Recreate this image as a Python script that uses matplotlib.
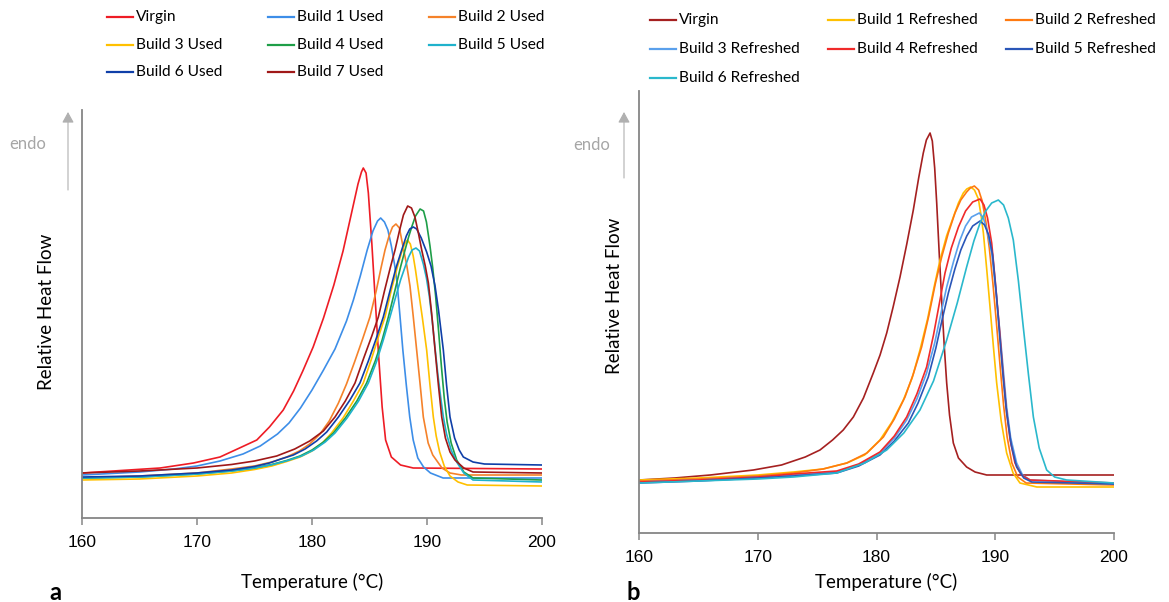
import matplotlib
matplotlib.use("Agg")
import matplotlib.pyplot as plt
from matplotlib.lines import Line2D
from matplotlib.patches import FancyArrowPatch

# ---------------- panel a : used powder ----------------
names_a = ["Virgin", "Build 1 Used", "Build 2 Used", "Build 3 Used",
           "Build 4 Used", "Build 5 Used", "Build 6 Used", "Build 7 Used"]
colors_a = ["#ee1c25", "#3d8ee8", "#f5822a", "#ffc000",
            "#1e9e48", "#1fb2cc", "#0f3fa8", "#a01818"]

# temperature (C) / relative heat flow (arbitrary units)
virgin_a_t = [160, 166.8, 169.7, 172.0, 173.7, 175.2, 176.3, 177.5, 178.4, 179.2, 180.1, 181.0, 181.9, 182.7, 183.4, 184.0, 184.3, 184.46, 184.7, 184.9, 185.2, 185.5, 185.8, 186.1, 186.4, 186.9, 187.7, 188.8, 200]
virgin_a_h = [45, 50, 55, 61, 70, 78, 91, 108, 127, 147, 171, 200, 233, 267, 303, 334, 346, 350, 345, 325, 275, 218, 161, 111, 78, 61, 53, 50, 49]

b1_a_t = [160, 165, 168, 170, 172, 174, 175.5, 177, 178, 179, 180, 181, 182, 183, 183.6, 184.2, 184.8, 185.3, 185.7, 185.97, 186.3, 186.6, 186.9, 187.2, 187.4, 187.65, 187.9, 188.2, 188.5, 188.8, 189.2, 189.7, 190.3, 191.4, 200]
b1_a_h = [43, 46, 49, 52, 57, 64, 72, 84, 95, 110, 128, 148, 169, 197, 218, 242, 268, 287, 297, 300, 296, 288, 272, 252, 235, 202, 168, 133, 101, 78, 60, 51, 45, 40, 40]

b2_a_t = [160, 165, 170, 173, 175, 176.5, 177.8, 178.9, 179.8, 180.7, 181.5, 182.3, 183.0, 183.7, 184.4, 185.04, 185.6, 186.0, 186.35, 186.7, 187.0, 187.3, 187.6, 187.94, 188.25, 188.52, 188.8, 189.1, 189.4, 189.68, 190.1, 190.5, 191.3, 192, 193, 200]
b2_a_h = [40, 42, 45, 49, 52, 56, 61, 67, 74, 84, 97, 115, 134, 156, 179, 201, 228, 250, 268, 282, 291, 294, 290, 270, 252, 232, 202, 168, 134, 101, 75, 63, 50, 45, 43, 43]

b3_a_t = [160, 165, 170, 173, 175, 176.5, 177.8, 178.96, 180.0, 180.9, 181.7, 182.7, 183.6, 184.46, 185.2, 185.8, 186.35, 186.9, 187.4, 187.8, 188.1, 188.3, 188.55, 188.8, 189.0, 189.2, 189.6, 189.97, 190.25, 190.55, 190.8, 191.1, 191.5, 192, 192.7, 193.5, 200]
b3_a_h = [38, 39, 42, 45, 48.5, 52, 56.5, 61, 67, 75, 85, 100, 117, 135, 160, 182, 201, 228, 250, 266, 275, 278, 274, 262, 248, 232, 200, 168, 134, 101, 82, 66, 52, 42, 36, 33, 32]

b4_a_t = [160, 165, 170, 173, 175, 176.5, 177.8, 178.96, 180.0, 181.0, 181.86, 182.9, 183.9, 184.75, 185.5, 186.1, 186.64, 187.2, 187.7, 188.09, 188.4, 188.67, 189.0, 189.4, 189.7, 189.95, 190.26, 190.5, 190.75, 191.0, 191.25, 191.5, 191.75, 192.1, 192.58, 193.2, 194, 200]
b4_a_h = [40, 41, 44, 47, 50, 53.5, 57.5, 62, 68, 76, 85, 100, 117, 135, 157, 178, 201, 227, 251, 268, 281, 291, 302, 309, 307, 296, 272, 250, 222, 188, 152, 120, 96, 75, 58, 46, 40, 38]

b5_a_t = [160, 165, 170, 173, 175, 176.6, 177.9, 179.1, 180.15, 181.15, 182.0, 183.05, 184.05, 184.9, 185.6, 186.2, 186.78, 187.3, 187.7, 188.09, 188.4, 188.7, 189.04, 189.35, 189.68, 189.95, 190.2, 190.45, 190.7, 190.95, 191.2, 191.42, 191.7, 192.1, 192.58, 193.2, 194, 200]
b5_a_h = [40, 41, 44, 47, 50, 53.5, 57.5, 62, 68, 76, 85, 100, 117, 135, 156, 178, 201, 222, 238, 251, 261, 268, 270, 267, 254, 240, 222, 198, 170, 143, 120, 101, 84, 68, 56, 45, 38, 36]

b6_a_t = [160, 165, 170, 173, 175, 176.3, 177.3, 178.38, 179.4, 180.4, 181.28, 182.3, 183.3, 184.17, 184.9, 185.6, 186.2, 186.8, 187.3, 187.8, 188.2, 188.5, 188.81, 189.1, 189.5, 189.97, 190.35, 190.7, 191.0, 191.42, 191.7, 192.0, 192.4, 192.8, 193.16, 194, 195, 200]
b6_a_h = [41, 42, 45, 48, 51.5, 55, 59, 63, 69, 77, 86, 101, 118, 135, 157, 180, 201, 228, 250, 268, 282, 289, 291, 289, 280, 266, 252, 232, 208, 168, 133, 101, 80, 68, 61, 56, 54, 53]

b7_a_t = [160, 165, 170, 173, 175, 176.93, 178.5, 179.8, 180.99, 182.0, 182.9, 183.74, 184.5, 185.2, 185.77, 186.3, 186.8, 187.22, 187.6, 187.95, 188.32, 188.65, 188.95, 189.25, 189.54, 189.85, 190.12, 190.4, 190.7, 191.0, 191.28, 191.6, 192.0, 192.43, 193.2, 194, 200]
b7_a_h = [45, 47, 50, 53.5, 57, 62, 69, 77, 87, 101, 117, 135, 160, 182, 201, 227, 250, 268, 287, 303, 312, 310, 301, 285, 268, 252, 235, 205, 168, 132, 101, 80, 66, 58, 50, 46, 45]

temps_a = [virgin_a_t, b1_a_t, b2_a_t, b3_a_t, b4_a_t, b5_a_t, b6_a_t, b7_a_t]
flows_a = [virgin_a_h, b1_a_h, b2_a_h, b3_a_h, b4_a_h, b5_a_h, b6_a_h, b7_a_h]

# ---------------- panel b : refreshed powder ----------------
names_b = ["Virgin", "Build 1 Refreshed", "Build 2 Refreshed", "Build 3 Refreshed",
           "Build 4 Refreshed", "Build 5 Refreshed", "Build 6 Refreshed"]
colors_b = ["#a52020", "#ffc000", "#ff7a10", "#5aa0ec",
            "#f02a2a", "#2a56b8", "#2ab8cc"]

virgin_b_t = [160, 163, 166, 169.63, 172, 174, 175.24, 176.3, 177.2, 178.05, 178.9, 179.73, 180.3, 180.86, 181.4, 181.98, 182.55, 183.1, 183.55, 183.94, 184.2, 184.51, 184.7, 184.9, 185.07, 185.28, 185.49, 185.7, 185.91, 186.15, 186.47, 186.9, 187.59, 188.3, 189.28, 200]
virgin_b_h = [53, 55, 58, 63, 68, 76, 83, 93, 103, 116, 135, 160, 178, 200, 226, 256, 289, 323, 355, 380, 393, 400, 392, 365, 330, 280, 233, 188, 150, 118, 90, 75, 66, 61, 58, 58]

b1_b_t = [160, 165, 170, 173, 175.5, 177.5, 179, 180.29, 181.3, 182.26, 183.0, 183.66, 184.3, 184.85, 185.35, 185.9, 186.47, 186.9, 187.31, 187.6, 187.93, 188.25, 188.58, 188.8, 189.0, 189.28, 189.56, 189.84, 190.12, 190.5, 190.96, 191.5, 192.08, 193.5, 200]
b1_b_h = [53, 55, 58, 61, 64, 70, 78, 93, 111, 133, 155, 183, 214, 246, 273, 297, 316, 330, 340, 344, 346, 343, 334, 318, 300, 264, 226, 187, 150, 112, 80, 60, 50, 46, 46]

b2_b_t = [160, 165, 170, 173, 175.5, 177.5, 179.2, 180.58, 181.5, 182.4, 183.1, 183.8, 184.4, 184.95, 185.49, 186.05, 186.61, 187.1, 187.59, 187.9, 188.24, 188.6, 188.9, 189.2, 189.5, 189.8, 190.1, 190.4, 190.7, 191.0, 191.4, 191.9, 192.6, 200]
b2_b_h = [52, 54, 57, 60, 64, 70, 80, 96, 114, 136, 159, 186, 217, 249, 276, 300, 320, 333, 341, 345, 347, 343, 332, 312, 285, 250, 210, 168, 128, 96, 70, 56, 50, 48]

b3_b_t = [160, 165, 170, 173, 176.65, 178.5, 180.29, 181.5, 182.54, 183.4, 184.22, 184.9, 185.4, 185.91, 186.5, 187.0, 187.5, 188.0, 188.66, 189.0, 189.3, 189.7, 190.05, 190.4, 190.7, 190.96, 191.3, 191.8, 192.3, 192.93, 200]
b3_b_h = [51, 53, 56, 58, 61, 68, 80, 95, 113, 134, 160, 190, 218, 246, 272, 292, 307, 316, 320, 315, 303, 280, 242, 200, 160, 126, 95, 70, 58, 53, 49]

b4_b_t = [160, 165, 170, 173, 176.65, 178.5, 180.29, 181.5, 182.54, 183.4, 184.22, 184.8, 185.3, 185.77, 186.3, 186.9, 187.5, 188.1, 188.72, 189.05, 189.35, 189.7, 190.0, 190.34, 190.62, 190.91, 191.25, 191.66, 192.2, 192.93, 200]
b4_b_h = [51, 53, 56, 59, 62, 69, 81, 97, 116, 139, 166, 198, 230, 260, 285, 306, 322, 331, 334, 328, 315, 290, 252, 206, 165, 126, 93, 70, 58, 53, 50]

b5_b_t = [160, 165, 170, 173, 176.65, 178.5, 180.29, 181.5, 182.68, 183.5, 184.36, 185.0, 185.5, 186.05, 186.6, 187.1, 187.6, 188.1, 188.72, 189.1, 189.45, 189.78, 190.1, 190.4, 190.68, 190.96, 191.35, 191.8, 192.4, 193.07, 200]
b5_b_h = [50, 52, 55, 57, 60, 67, 78, 92, 110, 130, 156, 185, 212, 240, 264, 283, 297, 307, 312, 308, 298, 278, 238, 193, 154, 120, 88, 66, 55, 51, 49]

b6_b_t = [160, 165, 170, 173, 176.65, 179, 180.86, 182.3, 183.66, 184.8, 185.91, 186.8, 187.59, 188.2, 188.72, 189.2, 189.7, 190.26, 190.7, 191.1, 191.52, 191.95, 192.36, 192.8, 193.21, 193.7, 194.33, 195.0, 196.01, 200]
b6_b_h = [50, 52, 54, 56, 60, 70, 83, 100, 123, 152, 193, 230, 266, 292, 310, 322, 330, 333, 328, 315, 293, 252, 206, 158, 116, 85, 63, 56, 53, 50]

temps_b = [virgin_b_t, b1_b_t, b2_b_t, b3_b_t, b4_b_t, b5_b_t, b6_b_t]
flows_b = [virgin_b_h, b1_b_h, b2_b_h, b3_b_h, b4_b_h, b5_b_h, b6_b_h]

xticks = [160, 170, 180, 190, 200]

TEXT_FONT = ["Lato", "DejaVu Sans"]
TICK_FONT = ["Liberation Sans", "DejaVu Sans"]
AXIS_GREY = "#868686"

W, H = 1169, 602
fig = plt.figure(figsize=(W / 100, H / 100), dpi=100)


def px_box(left, top, right, bottom):
    return [left / W, 1 - bottom / H, (right - left) / W, (bottom - top) / H]


def style_axis(ax, ytop):
    ax.set_xlim(160, 200)
    ax.set_ylim(0, ytop)
    for s in ["top", "right"]:
        ax.spines[s].set_visible(False)
    for s in ["left", "bottom"]:
        ax.spines[s].set_color(AXIS_GREY)
        ax.spines[s].set_linewidth(1.3)
    ax.set_yticks([])
    ax.set_xticks(xticks)
    ax.tick_params(axis="x", direction="out", length=5, width=1.1, color=AXIS_GREY,
                   labelsize=12.5, pad=7)
    for lab in ax.get_xticklabels():
        lab.set_family(TICK_FONT)


def add_legend(labels, colors, col_x, row_y):
    # row-wise, three entries per row, fixed column positions (px)
    for i, (lab, c) in enumerate(zip(labels, colors)):
        x0 = col_x[i % 3]
        y = 1 - row_y[i // 3] / H
        fig.add_artist(Line2D([x0 / W, (x0 + 26) / W], [y, y], color=c, lw=1.6,
                              transform=fig.transFigure))
        fig.text((x0 + 29) / W, y, lab, ha="left", va="center",
                 family=TEXT_FONT, fontsize=11.2)


# panel a
ax_a = fig.add_axes(px_box(82, 110, 542, 518))
for t, h, c in zip(temps_a, flows_a, colors_a):
    ax_a.plot(t, h, color=c, lw=1.2)
style_axis(ax_a, 408)
add_legend(names_a, colors_a, [107, 268, 429], [17, 45, 72])

# panel b
ax_b = fig.add_axes(px_box(639, 91, 1114, 533))
for t, h, c in zip(temps_b, flows_b, colors_b):
    ax_b.plot(t, h, color=c, lw=1.2)
style_axis(ax_b, 442)
add_legend(names_b, colors_b, [650, 828, 1006], [20, 49, 78])

# axis labels and panel letters
fig.text(312 / W, 1 - 582 / H, "Temperature (°C)", ha="center", va="center",
         family=TEXT_FONT, fontsize=13.5)
fig.text(886 / W, 1 - 582 / H, "Temperature (°C)", ha="center", va="center",
         family=TEXT_FONT, fontsize=13.5)
fig.text(47 / W, 1 - 312 / H, "Relative Heat Flow", ha="center", va="center",
         rotation=90, family=TEXT_FONT, fontsize=13.5)
fig.text(614 / W, 1 - 296 / H, "Relative Heat Flow", ha="center", va="center",
         rotation=90, family=TEXT_FONT, fontsize=13.5)
fig.text(55 / W, 1 - 592 / H, "a", ha="center", va="center",
         family=TEXT_FONT, fontsize=17, fontweight="bold")
fig.text(633 / W, 1 - 592 / H, "b", ha="center", va="center",
         family=TEXT_FONT, fontsize=17, fontweight="bold")

# endo arrows
for ax_x, txt_x, y_tail, y_head, y_txt in [(68, 28, 190, 112, 144), (624, 592, 178, 112, 145)]:
    fig.add_artist(FancyArrowPatch(
        (ax_x / W, 1 - y_tail / H), (ax_x / W, 1 - y_head / H),
        transform=fig.transFigure, arrowstyle="-|>,head_length=4,head_width=2.2",
        color="#b0b0b0", lw=0.8, mutation_scale=1.6, shrinkA=0, shrinkB=0))
    fig.text(txt_x / W, 1 - y_txt / H, "endo", ha="center", va="center",
             family=TEXT_FONT, fontsize=12, color="#a6a6a6")

fig.savefig("out.png", dpi=100, facecolor="white")
